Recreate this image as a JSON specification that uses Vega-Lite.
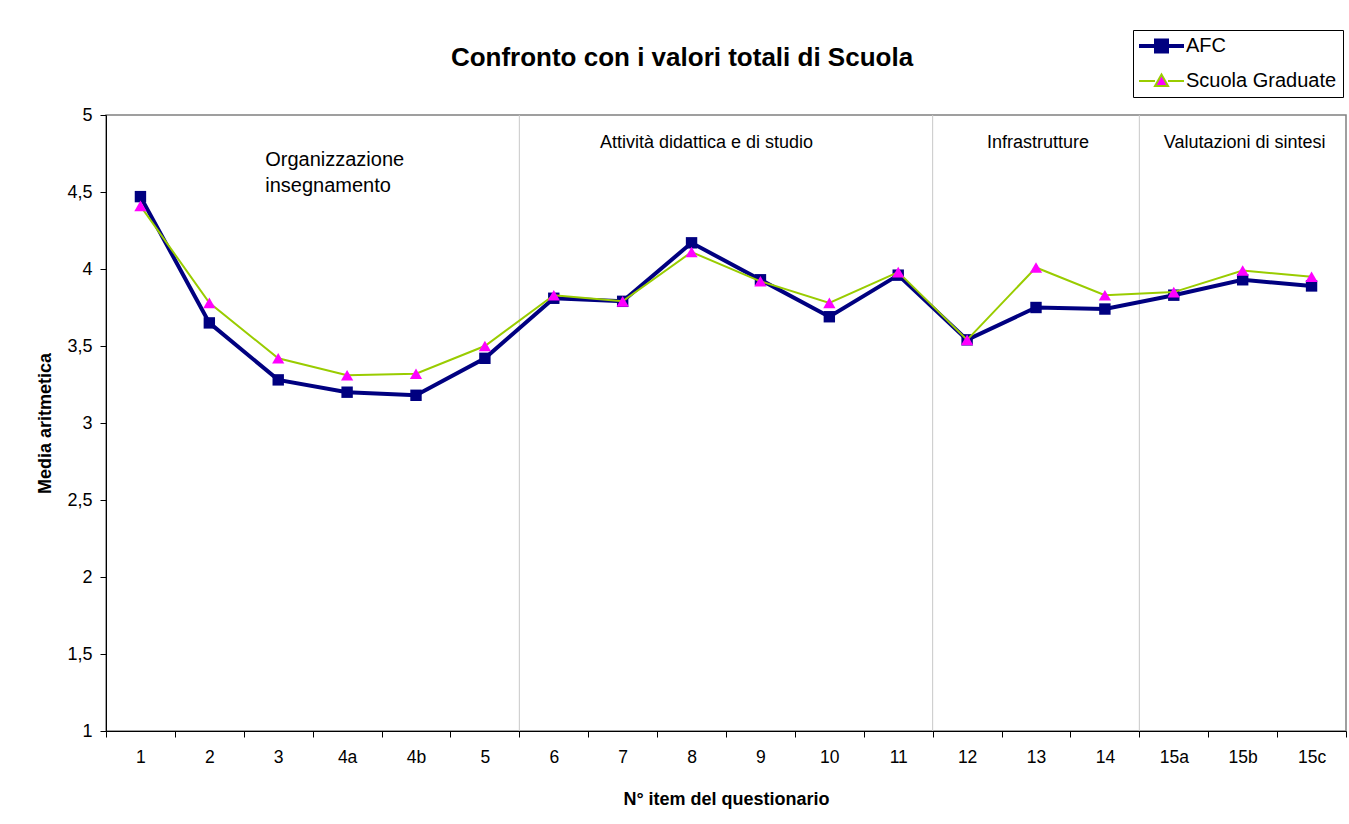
{
  "$schema": "https://vega.github.io/schema/vega-lite/v6.json",
  "width": 1240,
  "height": 616,
  "autosize": {"type": "none"},
  "padding": {"left": 106, "top": 115, "right": 3, "bottom": 93},
  "background": "white",
  "config": {
    "font": "Liberation Sans",
    "view": {"stroke": "#808080", "strokeWidth": 1.5}
  },
  "title": {
    "text": "Confronto con i valori totali di Scuola",
    "fontSize": 26,
    "fontWeight": "bold",
    "font": "Liberation Sans",
    "color": "black",
    "anchor": "middle",
    "frame": "group",
    "dx": -44,
    "offset": -41
  },
  "datasets": {
    "medie": [
      {"item": "1", "serie": "AFC", "val": 4.47},
      {"item": "2", "serie": "AFC", "val": 3.65},
      {"item": "3", "serie": "AFC", "val": 3.28},
      {"item": "4a", "serie": "AFC", "val": 3.20},
      {"item": "4b", "serie": "AFC", "val": 3.18},
      {"item": "5", "serie": "AFC", "val": 3.42},
      {"item": "6", "serie": "AFC", "val": 3.81},
      {"item": "7", "serie": "AFC", "val": 3.79},
      {"item": "8", "serie": "AFC", "val": 4.17},
      {"item": "9", "serie": "AFC", "val": 3.93},
      {"item": "10", "serie": "AFC", "val": 3.69},
      {"item": "11", "serie": "AFC", "val": 3.96},
      {"item": "12", "serie": "AFC", "val": 3.54},
      {"item": "13", "serie": "AFC", "val": 3.75},
      {"item": "14", "serie": "AFC", "val": 3.74},
      {"item": "15a", "serie": "AFC", "val": 3.83},
      {"item": "15b", "serie": "AFC", "val": 3.93},
      {"item": "15c", "serie": "AFC", "val": 3.89},
      {"item": "1", "serie": "Scuola Graduate", "val": 4.41},
      {"item": "2", "serie": "Scuola Graduate", "val": 3.78},
      {"item": "3", "serie": "Scuola Graduate", "val": 3.42},
      {"item": "4a", "serie": "Scuola Graduate", "val": 3.31},
      {"item": "4b", "serie": "Scuola Graduate", "val": 3.32},
      {"item": "5", "serie": "Scuola Graduate", "val": 3.50},
      {"item": "6", "serie": "Scuola Graduate", "val": 3.83},
      {"item": "7", "serie": "Scuola Graduate", "val": 3.79},
      {"item": "8", "serie": "Scuola Graduate", "val": 4.11},
      {"item": "9", "serie": "Scuola Graduate", "val": 3.92},
      {"item": "10", "serie": "Scuola Graduate", "val": 3.78},
      {"item": "11", "serie": "Scuola Graduate", "val": 3.98},
      {"item": "12", "serie": "Scuola Graduate", "val": 3.54},
      {"item": "13", "serie": "Scuola Graduate", "val": 4.01},
      {"item": "14", "serie": "Scuola Graduate", "val": 3.83},
      {"item": "15a", "serie": "Scuola Graduate", "val": 3.85},
      {"item": "15b", "serie": "Scuola Graduate", "val": 3.99},
      {"item": "15c", "serie": "Scuola Graduate", "val": 3.95}
    ]
  },
  "encoding": {
    "x": {
      "field": "item",
      "type": "ordinal",
      "sort": null,
      "scale": {
        "domain": ["1", "2", "3", "4a", "4b", "5", "6", "7", "8", "9", "10", "11", "12", "13", "14", "15a", "15b", "15c"],
        "paddingInner": 0,
        "paddingOuter": 0
      },
      "axis": {
        "title": "N° item del questionario",
        "tickBand": "extent",
        "labelAngle": 0,
        "labelFontSize": 17.5,
        "labelColor": "black",
        "labelPadding": 11,
        "tickColor": "black",
        "tickSize": 6,
        "domainColor": "black",
        "grid": false,
        "titleFontSize": 18,
        "titleFontWeight": "bold",
        "titleColor": "black",
        "titlePadding": 25
      }
    }
  },
  "layer": [
    {
      "data": {"values": [{"item": "6"}, {"item": "12"}, {"item": "15a"}]},
      "mark": {"type": "rule", "color": "#c8c8c8", "strokeWidth": 1},
      "encoding": {
        "x": {
          "field": "item",
          "type": "ordinal",
          "sort": null,
          "bandPosition": 0
        },
        "y": {"datum": 5, "type": "quantitative"},
        "y2": {"datum": 1}
      }
    },
    {
      "data": {"values": [{"sezione": "Organizzazione|insegnamento", "item": "3"}]},
      "mark": {"type": "text", "align": "left", "baseline": "alphabetic", "fontSize": 20, "lineBreak": "|", "lineHeight": 26, "dx": -13, "color": "black"},
      "encoding": {
        "text": {"field": "sezione"},
        "y": {"datum": 4.67, "type": "quantitative"}
      }
    },
    {
      "data": {"values": [{"sezione": "Attività didattica e di studio", "item": "8"}]},
      "mark": {"type": "text", "align": "center", "baseline": "alphabetic", "fontSize": 18, "dx": 15, "color": "black"},
      "encoding": {
        "text": {"field": "sezione"},
        "y": {"datum": 4.788, "type": "quantitative"}
      }
    },
    {
      "data": {"values": [{"sezione": "Infrastrutture", "item": "13"}, {"sezione": "Valutazioni di sintesi", "item": "15b"}]},
      "mark": {"type": "text", "align": "center", "baseline": "alphabetic", "fontSize": 18, "dx": 2, "color": "black"},
      "encoding": {
        "text": {"field": "sezione"},
        "y": {"datum": 4.788, "type": "quantitative"}
      }
    },
    {
      "data": {"name": "medie"},
      "transform": [{"filter": "datum.serie === 'AFC'"}],
      "mark": {"type": "line", "strokeWidth": 4},
      "encoding": {
        "y": {
          "field": "val",
          "type": "quantitative",
          "scale": {"domain": [1, 5], "nice": false, "zero": false},
          "axis": {
            "title": "Media aritmetica",
            "values": [1, 1.5, 2, 2.5, 3, 3.5, 4, 4.5, 5],
            "labelExpr": "replace(format(datum.value, '~g'), '.', ',')",
            "labelFontSize": 18,
            "labelColor": "black",
            "labelPadding": 8,
            "tickColor": "black",
            "tickSize": 6,
            "domainColor": "black",
            "grid": false,
            "titleFontSize": 18,
            "titleFontWeight": "bold",
            "titleColor": "black",
            "titlePadding": 12
          }
        },
        "color": {
          "field": "serie",
          "type": "nominal",
          "scale": {"domain": ["AFC", "Scuola Graduate"], "range": ["#000080", "#99CC00"]},
          "legend": {
            "title": null,
            "orient": "none",
            "legendX": 1027,
            "legendY": -85,
            "strokeColor": "black",
            "fillColor": "white",
            "padding": 6,
            "labelFontSize": 20,
            "labelFont": "Liberation Sans",
            "labelColor": "black",
            "labelOffset": 27,
            "rowPadding": 10,
            "symbolSize": 400,
            "encode": {
              "symbols": {
                "update": {
                  "shape": {"signal": "datum.value === 'AFC' ? 'M-1,0H3.5M0.7,-0.55H1.8V0.55H0.7Z' : 'M-1,0H0.6M1.9,0H3.5M1.25,-0.65L1.9,0.5H0.6Z'"},
                  "fill": {"signal": "datum.value === 'AFC' ? '#000080' : '#FF00FF'"},
                  "stroke": {"signal": "datum.value === 'AFC' ? '#000080' : '#99CC00'"},
                  "strokeWidth": {"signal": "datum.value === 'AFC' ? 4 : 2"},
                  "size": {"value": 400},
                  "opacity": {"value": 1},
                  "fillOpacity": {"value": 1},
                  "strokeOpacity": {"value": 1}
                }
              }
            }
          }
        }
      }
    },
    {
      "data": {"name": "medie"},
      "transform": [{"filter": "datum.serie === 'AFC'"}],
      "mark": {"type": "point", "shape": "square", "filled": true, "fill": "#000080", "size": 130, "opacity": 1},
      "encoding": {
        "y": {"field": "val", "type": "quantitative"}
      }
    },
    {
      "data": {"name": "medie"},
      "transform": [{"filter": "datum.serie === 'Scuola Graduate'"}],
      "mark": {"type": "line", "strokeWidth": 2},
      "encoding": {
        "y": {"field": "val", "type": "quantitative"},
        "color": {
          "field": "serie",
          "type": "nominal",
          "scale": {"domain": ["AFC", "Scuola Graduate"], "range": ["#000080", "#99CC00"]}
        }
      }
    },
    {
      "data": {"name": "medie"},
      "transform": [{"filter": "datum.serie === 'Scuola Graduate'"}],
      "mark": {"type": "point", "shape": "triangle-up", "filled": true, "fill": "#FF00FF", "size": 150, "opacity": 1},
      "encoding": {
        "y": {"field": "val", "type": "quantitative"}
      }
    }
  ]
}
